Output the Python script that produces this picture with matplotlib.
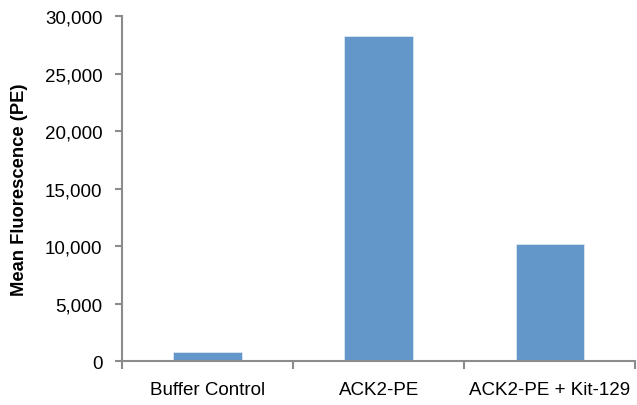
import numpy as np
import matplotlib.pyplot as plt
from matplotlib.ticker import FuncFormatter, FixedLocator

plt.rcParams['font.family'] = ['Liberation Sans', 'DejaVu Sans']

#data
categories = ['Buffer Control', 'ACK2-PE', 'ACK2-PE + Kit-129']
values = [780, 28260, 10170]

fig = plt.figure(figsize=(6.37, 4.06), dpi=100)
ax = fig.add_axes([0.1915, 0.108, 0.806, 0.85])

x = np.arange(len(categories))
ax.bar(x, values, width=0.4, color='#6497c9', edgecolor='#dce7f3', linewidth=0.6)

ax.set_xlim(-0.5, len(categories) - 0.5)
ax.set_ylim(0, 30000)
ax.set_yticks(np.arange(0, 30001, 5000))
ax.yaxis.set_major_formatter(FuncFormatter(lambda v, p: '{:,.0f}'.format(v)))

ax.set_xticks(x)
ax.set_xticklabels(categories)
ax.xaxis.set_minor_locator(FixedLocator(np.arange(-0.5, len(categories), 1.0)))
ax.tick_params(axis='x', which='major', length=0, pad=14, labelsize=13.5)
ax.tick_params(axis='x', which='minor', length=6, width=1.5, color='#8c8c8c')
ax.tick_params(axis='y', length=5, width=1.5, color='#8c8c8c', labelsize=13.5, pad=9)

for s in ['top', 'right']:
    ax.spines[s].set_visible(False)
for s in ['left', 'bottom']:
    ax.spines[s].set_color('#8c8c8c')
    ax.spines[s].set_linewidth(1.5)

ax.set_ylabel('Mean Fluorescence (PE)', fontsize=13.2, fontweight='bold', labelpad=12)

fig.savefig('out.png', dpi=100)
